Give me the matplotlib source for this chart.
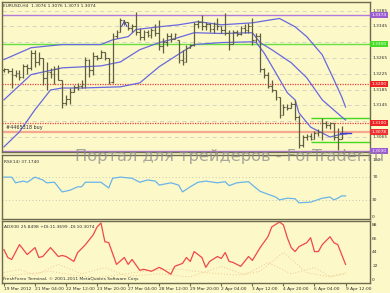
import numpy as np
import matplotlib.pyplot as plt
import matplotlib.transforms as mtransforms

# EURUSD H4 bars, 19 Mar 20:00 .. 9 Apr 12:00
opens = [1.3234, 1.3237, 1.3232, 1.3222, 1.3226, 1.3218, 1.3245, 1.3240, 1.3278, 1.3255,
         1.3266, 1.3215, 1.3230, 1.3225, 1.3238, 1.3210, 1.3150, 1.3160, 1.3180, 1.3192,
         1.3195, 1.3200, 1.3260, 1.3235, 1.3270, 1.3266, 1.3280, 1.3265, 1.3205, 1.3320,
         1.3330, 1.3360, 1.3355, 1.3342, 1.3347, 1.3330, 1.3318, 1.3330, 1.3322, 1.3336,
         1.3328, 1.3295, 1.3305, 1.3320, 1.3312, 1.3311, 1.3260, 1.3255, 1.3290, 1.3298,
         1.3350, 1.3355, 1.3345, 1.3350, 1.3338, 1.3352, 1.3345, 1.3335, 1.3328, 1.3300,
         1.3330, 1.3325, 1.3340, 1.3335, 1.3345, 1.3310, 1.3320, 1.3238, 1.3222, 1.3195,
         1.3185, 1.3165, 1.3120, 1.3140, 1.3138, 1.3148, 1.3115, 1.3045, 1.3065, 1.3068,
         1.3060, 1.3075, 1.3078, 1.3100, 1.3095, 1.3100, 1.3065, 1.3060, 1.3076]
highs = [1.3240, 1.3238, 1.3240, 1.3235, 1.3235, 1.3250, 1.3250, 1.3286, 1.3286, 1.3281,
         1.3266, 1.3255, 1.3240, 1.3245, 1.3248, 1.3210, 1.3172, 1.3189, 1.3197, 1.3202,
         1.3210, 1.3268, 1.3262, 1.3281, 1.3273, 1.3286, 1.3281, 1.3266, 1.3329, 1.3337,
         1.3367, 1.3362, 1.3357, 1.3352, 1.3382, 1.3342, 1.3337, 1.3337, 1.3342, 1.3352,
         1.3362, 1.3316, 1.3329, 1.3329, 1.3329, 1.3311, 1.3286, 1.3299, 1.3301, 1.3357,
         1.3362, 1.3375, 1.3357, 1.3354, 1.3357, 1.3367, 1.3347, 1.3380, 1.3337, 1.3337,
         1.3337, 1.3347, 1.3352, 1.3354, 1.3367, 1.3329, 1.3329, 1.3240, 1.3230, 1.3210,
         1.3184, 1.3165, 1.3149, 1.3149, 1.3154, 1.3159, 1.3121, 1.3070, 1.3073, 1.3075,
         1.3080, 1.3085, 1.3113, 1.3106, 1.3103, 1.3100, 1.3088, 1.3093, 1.3076]
lows = [1.3230, 1.3228, 1.3189, 1.3217, 1.3210, 1.3215, 1.3225, 1.3235, 1.3243, 1.3248,
        1.3197, 1.3184, 1.3215, 1.3200, 1.3210, 1.3139, 1.3146, 1.3149, 1.3179, 1.3184,
        1.3189, 1.3189, 1.3217, 1.3223, 1.3261, 1.3266, 1.3261, 1.3200, 1.3202, 1.3316,
        1.3330, 1.3349, 1.3337, 1.3332, 1.3324, 1.3311, 1.3311, 1.3319, 1.3316, 1.3321,
        1.3286, 1.3278, 1.3296, 1.3306, 1.3312, 1.3253, 1.3248, 1.3255, 1.3290, 1.3296,
        1.3342, 1.3337, 1.3337, 1.3332, 1.3329, 1.3337, 1.3329, 1.3324, 1.3286, 1.3300,
        1.3321, 1.3324, 1.3327, 1.3329, 1.3299, 1.3306, 1.3230, 1.3215, 1.3189, 1.3179,
        1.3159, 1.3113, 1.3120, 1.3134, 1.3138, 1.3108, 1.3037, 1.3039, 1.3057, 1.3057,
        1.3060, 1.3067, 1.3057, 1.3088, 1.3085, 1.3057, 1.3032, 1.3060, 1.3073]
closes = [1.3237, 1.3232, 1.3222, 1.3226, 1.3218, 1.3245, 1.3240, 1.3278, 1.3255, 1.3266,
          1.3215, 1.3230, 1.3225, 1.3238, 1.3210, 1.3150, 1.3160, 1.3180, 1.3192, 1.3195,
          1.3200, 1.3260, 1.3235, 1.3270, 1.3266, 1.3280, 1.3265, 1.3205, 1.3320, 1.3330,
          1.3360, 1.3355, 1.3342, 1.3347, 1.3330, 1.3318, 1.3330, 1.3322, 1.3336, 1.3328,
          1.3295, 1.3305, 1.3320, 1.3312, 1.3325, 1.3260, 1.3255, 1.3290, 1.3298, 1.3350,
          1.3355, 1.3345, 1.3350, 1.3338, 1.3352, 1.3345, 1.3335, 1.3328, 1.3300, 1.3330,
          1.3325, 1.3340, 1.3335, 1.3345, 1.3310, 1.3320, 1.3238, 1.3222, 1.3195, 1.3185,
          1.3165, 1.3120, 1.3140, 1.3138, 1.3148, 1.3115, 1.3045, 1.3065, 1.3068, 1.3060,
          1.3075, 1.3078, 1.3100, 1.3095, 1.3100, 1.3065, 1.3060, 1.3076, 1.3074]

# bollinger bands, read at some bars
bb_up_idx = [0, 7, 15, 25, 28, 32, 34, 40, 45, 50, 56, 64, 69, 71, 75, 78, 82, 85, 87, 88]
bb_up = [1.3261, 1.3291, 1.3299, 1.3299, 1.3311, 1.3319, 1.3337, 1.3344, 1.3349, 1.3357,
         1.3349, 1.3354, 1.3362, 1.3365, 1.3344, 1.3319, 1.3273, 1.3210, 1.3167, 1.3141]
bb_mid_idx = [0, 7, 15, 25, 30, 35, 40, 44, 49, 56, 64, 66, 69, 74, 78, 82, 87, 88]
bb_mid = [1.3159, 1.3223, 1.3240, 1.3245, 1.3255, 1.3286, 1.3304, 1.3314, 1.3329, 1.3327,
          1.3329, 1.3304, 1.3286, 1.3253, 1.3215, 1.3159, 1.3116, 1.3108]
bb_lo_idx = [0, 4, 8, 12, 15, 20, 30, 35, 40, 46, 49, 56, 64, 65, 67, 70, 73, 75, 76, 79,
             82, 84, 86, 88]
bb_lo = [1.3040, 1.3078, 1.3134, 1.3184, 1.3189, 1.3189, 1.3192, 1.3202, 1.3243, 1.3281,
         1.3299, 1.3304, 1.3306, 1.3304, 1.3278, 1.3228, 1.3177, 1.3159, 1.3126, 1.3090,
         1.3075, 1.3065, 1.3070, 1.3073]

rsi_idx = [0, 2, 3, 5, 6, 8, 10, 11, 13, 15, 17, 19, 20, 21, 23, 25, 27, 28, 30, 33, 35,
           37, 39, 40, 43, 45, 46, 48, 50, 52, 55, 57, 58, 60, 63, 64, 66, 68, 70, 71, 73,
           75, 76, 79, 82, 84, 85, 86, 87, 88]
rsi = [70, 70, 60, 63, 61, 70, 65, 60, 61, 44, 47, 53, 53, 61, 61, 61, 51, 68, 70, 68, 61,
       65, 63, 56, 60, 56, 44, 53, 61, 63, 60, 62, 55, 60, 62, 56, 45, 40, 35, 30, 33,
       32, 25, 26, 33, 35, 30, 33, 37, 37]

adx_idx = [0, 1, 2, 4, 6, 8, 9, 10, 12, 14, 15, 16, 18, 19, 21, 23, 24, 25, 26, 27, 29, 31,
           32, 33, 35, 36, 38, 40, 41, 43, 44, 46, 47, 48, 49, 51, 52, 53, 55, 56, 57, 58,
           59, 61, 63, 64, 66, 68, 69, 71, 72, 73, 74, 75, 76, 78, 79, 80, 81, 82, 84, 85,
           86, 87, 88]
adx = [48.4, 35.9, 32.8, 56.3, 40.6, 51.6, 35.9, 37.5, 51.6, 37.5, 39.1, 37.5, 29.7, 43.8,
       56.3, 71.9, 84.4, 90.6, 60.9, 59.4, 25.0, 35.9, 25.0, 32.8, 15.6, 17.2, 14.1, 20.3,
       17.2, 9.4, 21.9, 26.6, 35.9, 29.7, 45.3, 35.9, 20.3, 29.7, 37.5, 34.4, 43.8, 29.7,
       28.1, 21.9, 37.5, 31.3, 51.6, 68.8, 84.4, 92.2, 87.5, 67.2, 51.6, 45.3, 53.1, 59.4,
       67.2, 45.3, 45.3, 56.3, 68.8, 59.4, 56.3, 40.6, 25.0]
pdi_idx = [0, 4, 8, 14, 20, 26, 32, 40, 48, 56, 62, 68, 74, 80, 84, 88]
pdi = [12, 17, 8, 25, 10, 20, 6, 10, 5, 22, 8, 28, 10, 20, 6, 11.4]
mdi_idx = [0, 6, 12, 18, 24, 30, 36, 44, 52, 60, 66, 72, 78, 84, 88]
mdi = [6, 10, 14, 8, 4, 9, 14, 18, 12, 8, 14, 44, 12, 5, 10.3]

xlabels = ["19 Mar 2012", "21 Mar 04:00", "22 Mar 12:00", "23 Mar 20:00", "27 Mar 04:00",
           "28 Mar 12:00", "29 Mar 20:00", "2 Apr 04:00", "3 Apr 12:00", "4 Apr 20:00",
           "6 Apr 04:00", "9 Apr 12:00"]
price_grid = [1.3385, 1.3345, 1.3305, 1.3265, 1.3225, 1.3185, 1.3145, 1.3105, 1.3065]
# grid labels that are not hidden behind the coloured price boxes
price_labels = [1.3385, 1.3345, 1.3265, 1.3225, 1.3185, 1.3145, 1.3065]

bg = '#fcf8c8'
frame = '#6e6a50'
txt = '#303030'
fs = 3.2

W, H = 390, 293
fig = plt.figure(figsize=(W / 100, H / 100), dpi=100, facecolor=bg)


def box(top, bottom):
    return [2 / W, 1 - bottom / H, 368 / W, (bottom - top) / H]


ax = fig.add_axes(box(1.5, 152))
ax2 = fig.add_axes(box(155, 219))
ax3 = fig.add_axes(box(221, 283))
for a in (ax, ax2, ax3):
    a.set_facecolor(bg)
    a.set_xlim(-0.5, 94.3)
    for s in a.spines.values():
        s.set_color(frame)
        s.set_linewidth(1.0)
    a.tick_params(left=False, labelleft=False, right=False, labelright=False,
                  bottom=False, labelbottom=False)

x = np.arange(len(closes))

# main window
ax.set_ylim(1.3027, 1.3408)
for g in price_grid:
    ax.axhline(g, color='#cfcfc0', lw=0.6, ls=(0, (5, 4)), zorder=1)

ax.axhline(1.3374, color='#b07ad8', lw=1.0, zorder=2)
ax.axhline(1.3300, color='#66e040', lw=1.0, zorder=2)
ax.axhline(1.3200, color='#e84040', lw=0.9, ls=(0, (1, 1)), zorder=2)
ax.axhline(1.3100, color='#e84040', lw=0.9, ls=(0, (1, 1)), zorder=2)
ax.axhline(1.3078, color='#f4a890', lw=1.6, zorder=2)
ax.axhline(1.3030, color='#b07ad8', lw=1.0, zorder=2)
ax.hlines([1.3112, 1.3052], 79, 94.3, color='#44d820', lw=1.0, zorder=2)

ax.plot(bb_up_idx, bb_up, color='#6868e0', lw=0.9, zorder=3)
ax.plot(bb_mid_idx, bb_mid, color='#6868e0', lw=0.9, zorder=3)
ax.plot(bb_lo_idx, bb_lo, color='#6868e0', lw=0.9, zorder=3)

ax.vlines(x, lows, highs, color='#5e5e40', lw=0.9, zorder=4)
ax.hlines(opens, x - 0.45, x, color='#5e5e40', lw=0.8, zorder=4)
ax.hlines(closes, x, x + 0.45, color='#5e5e40', lw=0.8, zorder=4)

ax.plot([86.5, 89.5], [1.3074, 1.3074], color='#3a3ad8', lw=1.0, zorder=5)
ax.annotate('', xy=(31, 1.3368), xytext=(31, 1.3352),
            arrowprops=dict(arrowstyle='->', color='#3a3ad8', lw=0.7))

ax.text(0.5, 1.3090, '#4465318 buy', fontsize=fs + 0.3, color=txt, va='center')
ax.text(0.004, 0.985, 'EURUSD,H4  1.3076 1.3076 1.3073 1.3074', transform=ax.transAxes,
        fontsize=fs, color=txt, va='top')

tr = mtransforms.blended_transform_factory(ax.transAxes, ax.transData)
for g in price_labels:
    ax.text(1.006, g, f'{g:.4f}', transform=tr, fontsize=fs, color=txt, va='center',
            clip_on=False)
for val, col in [(1.3374, '#9c5cd0'), (1.3300, '#44dd22'), (1.3200, '#ee2222'),
                 (1.3100, '#ee2222'), (1.3078, '#ee3030'), (1.3030, '#9c5cd0')]:
    ax.text(1.004, val, f'{val:.4f}', transform=tr, fontsize=fs, color='white',
            va='center', clip_on=False,
            bbox=dict(facecolor=col, edgecolor='none', pad=0.8))

# RSI window
ax2.set_ylim(-3.5, 108.8)
ax2.axhline(70, color='#b8b8a8', lw=0.6, ls=(0, (1, 3)))
ax2.axhline(30, color='#b8b8a8', lw=0.6, ls=(0, (1, 3)))
ax2.plot(rsi_idx, rsi, color='#6ab4e8', lw=0.9)
ax2.text(0.005, 0.92, 'RSI(14) 37.1740', transform=ax2.transAxes, fontsize=fs,
         color=txt, va='top')
tr2 = mtransforms.blended_transform_factory(ax2.transAxes, ax2.transData)
for v in [100, 70, 30, 0]:
    ax2.text(1.006, v, str(v), transform=tr2, fontsize=fs, color=txt, va='center',
             clip_on=False)

# ADX window
ax3.set_ylim(-4.5, 93.75)
ax3.plot(pdi_idx, pdi, color='#f0c890', lw=0.7, ls=(0, (1, 2)))
ax3.plot(mdi_idx, mdi, color='#f0c890', lw=0.7, ls=(0, (1, 2)))
ax3.plot(adx_idx, adx, color='#f04848', lw=0.9)
ax3.text(0.005, 0.94, 'ADX(8) 25.8498 +DI:11.3699 -DI:10.3074', transform=ax3.transAxes,
         fontsize=fs, color=txt, va='top')
ax3.text(0.004, 0.03, 'FreshForex Terminal, \u00a9 2001-2011 MetaQuotes Software Corp.',
         transform=ax3.transAxes, fontsize=fs, color=txt, va='bottom')
tr3 = mtransforms.blended_transform_factory(ax3.transAxes, ax3.transData)
for v in [88, 66, 44, 22, 0]:
    ax3.text(1.006, v, str(v), transform=tr3, fontsize=fs, color=txt, va='center',
             clip_on=False)

ax3.set_xticks(np.arange(0, 89, 8))
ax3.set_xticklabels(xlabels, fontsize=fs, color=txt, ha='left')
ax3.tick_params(bottom=True, labelbottom=True, length=2, pad=1, color=frame)

fig.text(75 / W, 1 - 161 / H, '\u041f\u043e\u0440\u0442\u0430\u043b \u0434\u043b\u044f '
         '\u0442\u0440\u0435\u0439\u0434\u0435\u0440\u043e\u0432 - ForTrader.ru',
         fontsize=11.7, color='#8c8c8c', alpha=0.75, va='baseline')

fig.savefig('out.png', dpi=100, facecolor=bg)
